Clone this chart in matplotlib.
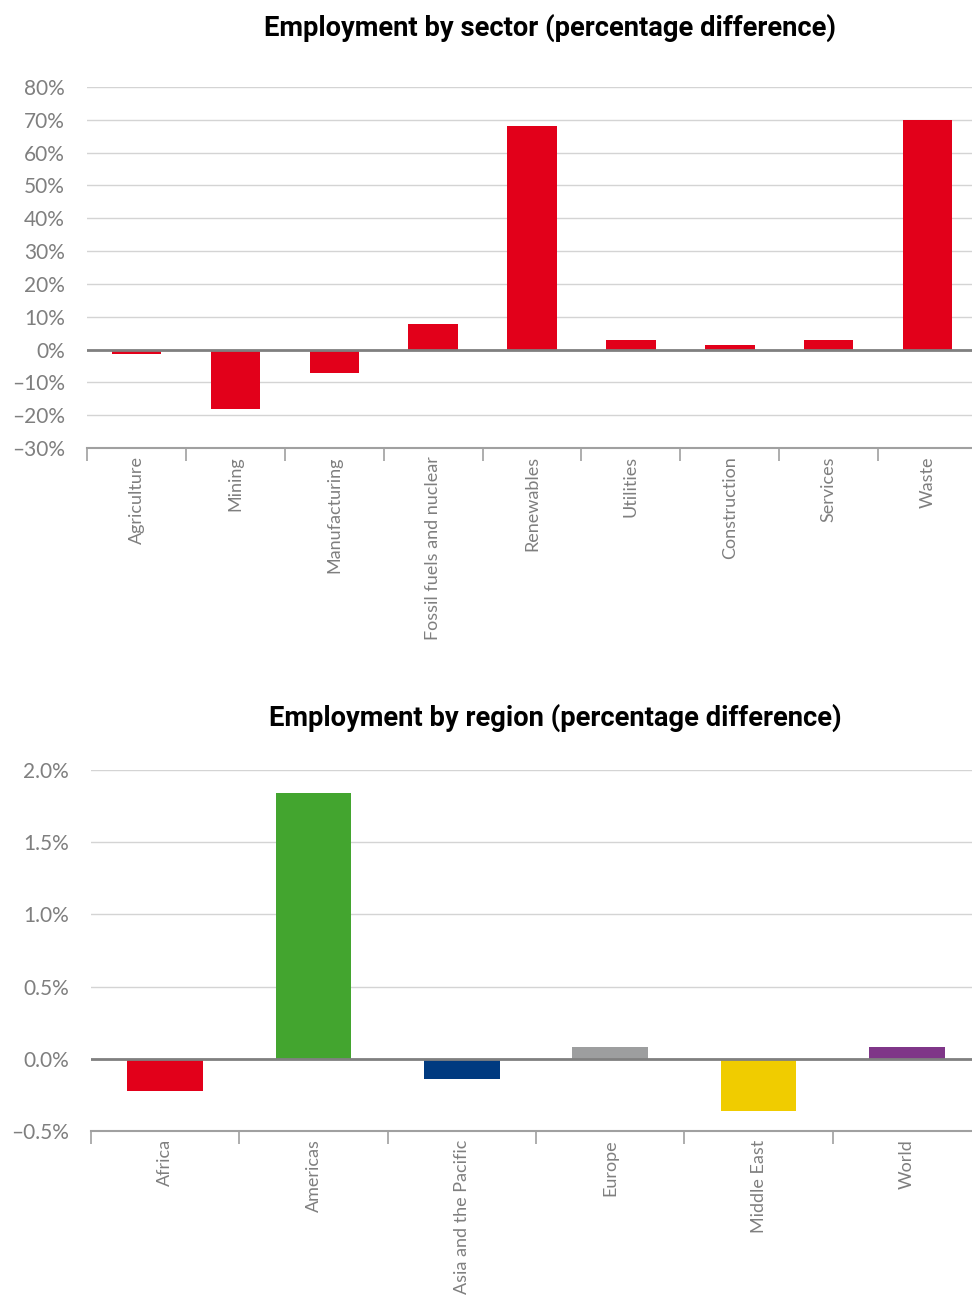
import matplotlib
matplotlib.use("Agg")
import matplotlib.pyplot as plt
from matplotlib.ticker import FuncFormatter

# data
sectors = ["Agriculture", "Mining", "Manufacturing", "Fossil fuels and nuclear",
           "Renewables", "Utilities", "Construction", "Services", "Waste"]
sector_diff = [-1.5, -18.0, -7.2, 7.9, 68.0, 3.0, 1.5, 3.0, 70.0]
sector_ticks = [-30, -20, -10, 0, 10, 20, 30, 40, 50, 60, 70, 80]

regions = ["Africa", "Americas", "Asia and the Pacific", "Europe", "Middle East", "World"]
region_diff = [-0.22, 1.84, -0.14, 0.08, -0.36, 0.08]
region_ticks = [-0.5, 0.0, 0.5, 1.0, 1.5, 2.0]
region_colors = ["#E2001A", "#43A52F", "#003A80", "#9D9E9F", "#F0CC00", "#7F3688"]

plt.rcParams['font.family'] = ['Lato', 'DejaVu Sans']
gray_txt = "#7f7f7f"

fig = plt.figure(figsize=(9.72, 12.99), dpi=100)


def style_axes(ax, n, ticks, fmt, labels):
    ax.set_xlim(-0.5, n - 0.5)
    ax.set_ylim(ticks[0], ticks[-1])
    ax.set_yticks(ticks)
    ax.yaxis.set_major_formatter(FuncFormatter(fmt))
    ax.grid(axis="y", color="#d4d4d4", lw=1)
    ax.set_axisbelow(True)
    for s in ["top", "right", "left"]:
        ax.spines[s].set_visible(False)
    ax.spines["bottom"].set_color("#a0a0a0")
    ax.spines["bottom"].set_linewidth(1.5)
    ax.axhline(0, color="#808080", lw=2, zorder=3)
    ax.tick_params(axis="y", length=0, pad=16, labelsize=15, labelcolor=gray_txt)
    # ticks at the category boundaries, labels at the centres
    ax.set_xticks([i - 0.5 for i in range(n + 1)])
    ax.set_xticklabels([])
    ax.tick_params(axis="x", which="major", length=9, width=1.2, color="#a0a0a0")
    ax.set_xticks(range(n), minor=True)
    ax.set_xticklabels(labels, minor=True, rotation=90, va="top", ha="center")
    ax.tick_params(axis="x", which="minor", length=0, pad=6, labelsize=13, labelcolor=gray_txt)


ax1 = fig.add_axes([87 / 972, 0.6551, 890 / 972, 0.2779])
ax1.bar(range(len(sectors)), sector_diff, width=0.5, color="#E2001A", zorder=2)
style_axes(ax1, len(sectors), sector_ticks, lambda v, p: f"{v:.0f}%".replace("-", "\u2013"), sectors)
fig.text(550 / 972, 1 - 28 / 1299, "Employment by sector (percentage difference)",
         ha="center", va="center", fontsize=19.7, fontweight="bold",
         family=["Roboto", "DejaVu Sans"])

ax2 = fig.add_axes([91 / 972, 0.1293, 890 / 972, 0.2779])
ax2.bar(range(len(regions)), region_diff, width=0.51, color=region_colors, zorder=2)
style_axes(ax2, len(regions), region_ticks, lambda v, p: f"{v:.1f}%".replace("-", "\u2013"), regions)
fig.text(555 / 972, 1 - 718 / 1299, "Employment by region (percentage difference)",
         ha="center", va="center", fontsize=19.7, fontweight="bold",
         family=["Roboto", "DejaVu Sans"])

fig.savefig("out.png", dpi=100, facecolor="white")
